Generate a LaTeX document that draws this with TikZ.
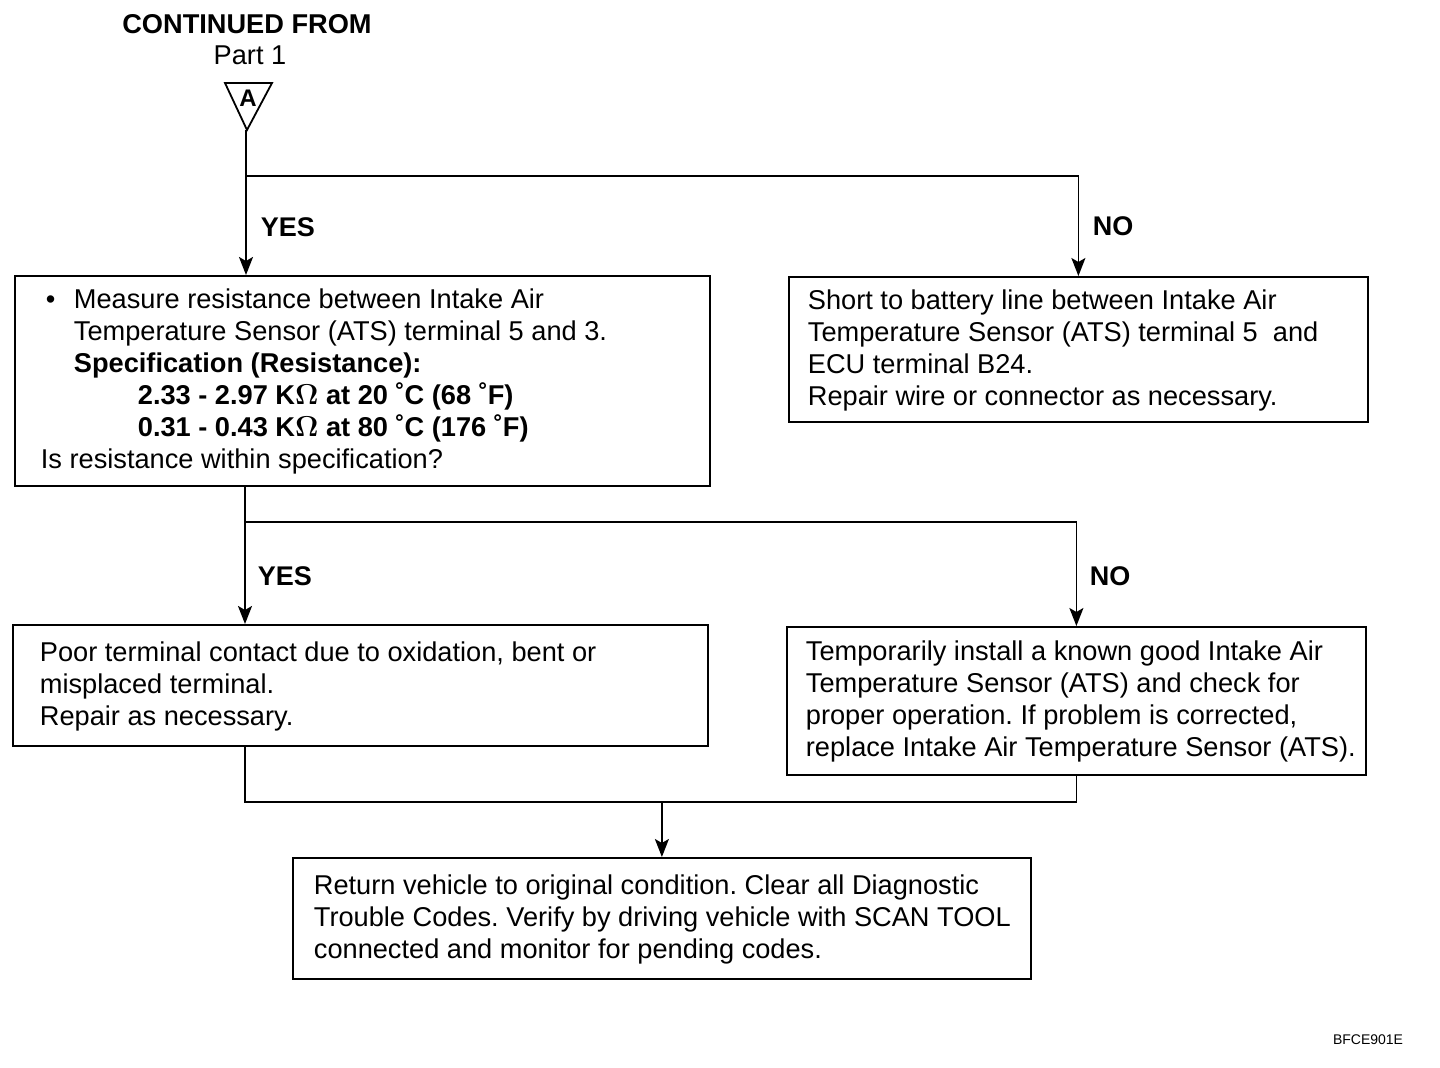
\documentclass[tikz,border=0pt]{standalone}
\usepackage{fontspec}
\setmainfont{Liberation Sans}
\usetikzlibrary{arrows.meta}
\frenchspacing

\begin{document}
\begin{tikzpicture}[x=0.5pt, y=-0.5pt, line width=0.9pt,
    every node/.style={font=\fontsize{13.6}{16}\selectfont, inner sep=0pt},
    stepbox/.style={draw, anchor=north west},
    steptext/.style={anchor=west, align=left},
    arr/.style={-{Stealth[length=9pt, width=7pt, inset=2pt]}},
    answer/.style={font=\fontsize{13.5}{16}\selectfont\bfseries}]
    \useasboundingbox (0,0) rectangle (1440,1068) ;

    \node (cont) at (247,24) {\bfseries CONTINUED FROM} ;
    \node (part) at (250,55) {Part 1} ;
    \draw (225,83) -- (272,83) -- (247,130) -- cycle ;
    \node (conA) at (248,98) {\fontsize{12}{13}\selectfont\bfseries A} ;
    \coordinate (tip) at (246,130) ;

    \node [stepbox, minimum width=347.5pt, minimum height=105pt] (meas) at (14,275) {} ;
    \node [steptext] (meastxt) at ([xshift=13pt, yshift=-0.5pt]meas.west) {%
        \makebox[16.5pt][l]{\hspace*{2.5pt}•}Measure resistance between Intake Air\\
        \hspace*{16.5pt}Temperature Sensor (ATS) terminal 5 and 3.\\
        \hspace*{16.5pt}\textbf{Specification (Resistance):}\\
        \hspace*{48.5pt}\textbf{2.33 - 2.97 {\boldmath$\mathrm{K}\Omega$} at 20 ˚C (68 ˚F)}\\
        \hspace*{48.5pt}\textbf{0.31 - 0.43 {\boldmath$\mathrm{K}\Omega$} at 80 ˚C (176 ˚F)}\\
        Is resistance within specification?} ;

    \node [stepbox, minimum width=289.5pt, minimum height=72.5pt] (short) at (788,276) {} ;
    \node [steptext] (shorttxt) at ([xshift=9.5pt, yshift=-0.5pt]short.west) {%
        Short to battery line between Intake Air\\
        Temperature Sensor (ATS) terminal 5 \ and\\
        ECU terminal B24.\\
        Repair wire or connector as necessary.} ;

    \node [stepbox, minimum width=347.5pt, minimum height=60.5pt] (poor) at (12,624) {} ;
    \node [steptext] (poortxt) at ([xshift=13.5pt, yshift=-0.5pt]poor.west) {%
        Poor terminal contact due to oxidation, bent or\\
        misplaced terminal.\\
        Repair as necessary.} ;

    \node [stepbox, minimum width=289.5pt, minimum height=74pt] (temp) at (786,626) {} ;
    \node [steptext] (temptxt) at ([xshift=9.5pt, yshift=-0.5pt]temp.west) {%
        Temporarily install a known good Intake Air\\
        Temperature Sensor (ATS) and check for\\
        proper operation. If problem is corrected,\\
        replace Intake Air Temperature Sensor (ATS).} ;

    \node [stepbox, minimum width=369pt, minimum height=60.5pt] (ret) at (292,857) {} ;
    \node [steptext] (rettxt) at ([xshift=10.5pt, yshift=-0.5pt]ret.west) {%
        Return vehicle to original condition. Clear all Diagnostic\\
        Trouble Codes. Verify by driving vehicle with SCAN TOOL\\
        connected and monitor for pending codes.} ;

    % first check
    \coordinate (jA) at (246,176) ;
    \draw (tip) -- (jA) ;
    \draw [arr] (jA) -- (meas.north -| jA) ;
    \draw [arr] (jA) -| (short.north) ;
    \node [answer, anchor=west] (yesA) at (260,227) {YES} ;
    \node [answer] (noA) at (1113,226) {NO} ;

    % resistance check
    \coordinate (jB) at (245,522) ;
    \draw (meas.south -| jB) -- (jB) ;
    \draw [arr] (jB) -- (poor.north -| jB) ;
    \draw [arr] (jB) -| (temp.north) ;
    \node [answer, anchor=west] (yesB) at (257,576) {YES} ;
    \node [answer] (noB) at (1110,576) {NO} ;

    % merge
    \coordinate (jC) at (ret.north |- 0,802) ;
    \draw (poor.south -| jB) |- (jC) -| (temp.south) ;
    \draw [arr] (jC) -- (ret.north) ;

    \node (code) at (1368,1040) {\fontsize{7}{8}\selectfont BFCE901E} ;
\end{tikzpicture}
\end{document}
